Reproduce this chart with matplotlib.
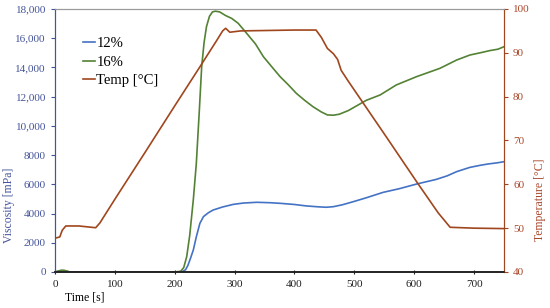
import numpy as np
import matplotlib
matplotlib.use('Agg')
import matplotlib.pyplot as plt
from matplotlib.ticker import FuncFormatter

plt.rcParams['font.family'] = ['Liberation Serif', 'DejaVu Serif']

# time [s] / viscosity [mPa] for 12 %
t_12 = [0, 5, 10, 15, 20, 25, 205, 213, 218, 222, 226, 231, 236, 242, 248, 256, 264, 280, 298,
        315, 337, 360, 376, 400, 420, 440, 453, 465, 480, 498, 520, 548, 575, 604, 637, 655,
        671, 693, 710, 723, 740, 750]
visc_12 = [0, 40, 80, 80, 40, 0, 0, 30, 150, 450, 900, 1500, 2400, 3330, 3790, 4050, 4240, 4450,
           4630, 4720, 4770, 4740, 4700, 4620, 4520, 4460, 4430, 4470, 4600, 4810, 5080, 5450,
           5700, 6020, 6340, 6580, 6870, 7160, 7300, 7390, 7480, 7550]

# time [s] / viscosity [mPa] for 16 %
t_16 = [0, 5, 10, 15, 20, 25, 200, 210, 215, 220, 225, 231, 236, 241, 245, 249, 253, 258, 263,
        268, 275, 285, 295, 306, 320, 335, 348, 362, 376, 390, 403, 417, 431, 445, 455, 465,
        475, 490, 505, 520, 543, 570, 604, 643, 671, 693, 710, 726, 740, 750]
visc_16 = [0, 60, 120, 120, 60, 0, 0, 50, 300, 1050, 2500, 4930, 7400, 11000, 14050, 15700,
           16790, 17500, 17800, 17850, 17800, 17550, 17360, 17020, 16340, 15600, 14740, 14050,
           13370, 12800, 12230, 11750, 11310, 10950, 10750, 10730, 10800, 11050, 11400, 11750,
           12115, 12800, 13370, 13940, 14510, 14850, 15000, 15150, 15250, 15420]

# time [s] / temperature [C]
t_temp = [0, 8, 12, 18, 40, 68, 75, 100, 150, 200, 242, 270, 280, 285, 292, 310, 400, 436, 445,
          455, 465, 472, 478, 490, 510, 550, 606, 640, 660, 700, 750]
temp = [47.7, 48.0, 49.5, 50.5, 50.5, 50.1, 51.2, 56.6, 67.2, 77.9, 86.8, 92.8, 95.0, 95.6,
        94.7, 95.0, 95.2, 95.2, 93.5, 91.0, 89.8, 88.5, 86.0, 83.5, 79.5, 71.5, 60.2, 53.5,
        50.2, 50.0, 49.9]

c_12 = '#4472C4'
c_16 = '#548235'
c_temp = '#A0461E'
c_left = '#44549A'
c_right = '#A9472B'

fig = plt.figure(figsize=(5.5, 3.08), dpi=100)
ax = fig.add_axes([0.1, 0.1169, 0.8164, 0.8539])
ax2 = ax.twinx()

l1, = ax.plot(t_12, visc_12, color=c_12, lw=1.2)
l2, = ax.plot(t_16, visc_16, color=c_16, lw=1.2)
l3, = ax2.plot(t_temp, temp, color=c_temp, lw=1.2)

ax.set_xlim(0, 750)
ax.set_ylim(0, 18000)
ax2.set_ylim(40, 100)
ax.set_xticks(np.arange(0, 701, 100))
ax.set_yticks(np.arange(0, 18001, 2000))
ax2.set_yticks(np.arange(40, 101, 10))
ax.yaxis.set_major_formatter(FuncFormatter(lambda v, p: f'{v:,.0f}' if v >= 10000 else f'{v:.0f}'))

for a in (ax, ax2):
    a.spines['top'].set_color('#9a9a9a')
    a.spines['bottom'].set_color('#222222')
    a.spines['bottom'].set_linewidth(1.2)
ax.spines['left'].set_color(c_left)
ax2.spines['left'].set_color(c_left)
ax.spines['right'].set_color(c_temp)
ax2.spines['right'].set_color(c_temp)

ax.tick_params(axis='y', colors=c_left, labelsize=8, length=3, width=0.8)
ax.tick_params(axis='x', colors='#222222', labelsize=8, length=3, width=0.8, direction='inout', pad=4)
ax2.tick_params(axis='y', colors=c_temp, labelcolor=c_right, labelsize=8, length=3, width=0.8)

ax.set_xlabel('Time [s]', fontsize=8.5, loc='left')
ax.xaxis.set_label_coords(0.022, -0.075)
ax.set_ylabel('Viscosity [mPa]', fontsize=8.5, color=c_left)
ax.yaxis.set_label_coords(-0.088, 0.255)
ax2.set_ylabel('Temperature [°C]', fontsize=8.5, color=c_right)
ax2.yaxis.set_label_coords(1.066, 0.274)

ax.legend([l1, l2, l3], ['12%', '16%', 'Temp [°C]'], loc='upper left',
          bbox_to_anchor=(0.05, 0.915), frameon=False, fontsize=10.5,
          handlelength=0.8, handletextpad=0.1, labelspacing=0.35, borderaxespad=0)

fig.savefig('out.png', dpi=100)
